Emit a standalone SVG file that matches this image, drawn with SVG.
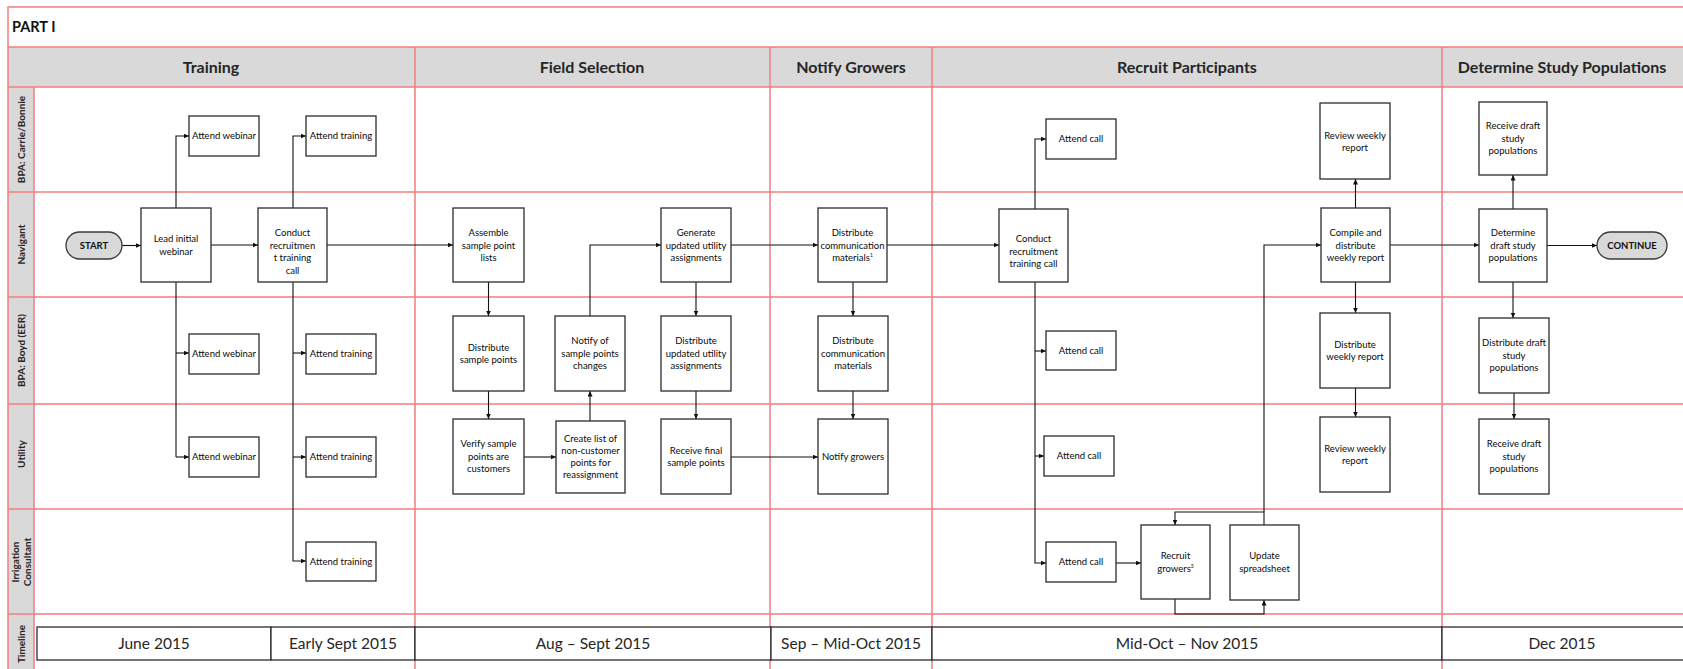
<svg xmlns="http://www.w3.org/2000/svg" width="1683" height="669" viewBox="0 0 1683 669">
<style>
.grid{stroke:#f47f7f;stroke-width:1.5;fill:none}
.hdr{fill:#d9d9d9}
.n{fill:#fff;stroke:#2b2b2b;stroke-width:1.3}
.pill{fill:#d9d9d9;stroke:#3a3a3a;stroke-width:1.3}
.t{font-family:Lato,"Liberation Sans",sans-serif;font-size:9.5px;fill:#0a0a0a;text-anchor:middle}
.pt{font-family:Lato,"Liberation Sans",sans-serif;font-size:9.5px;font-weight:bold;fill:#111;text-anchor:middle}
.h{font-family:Lato,"Liberation Sans",sans-serif;font-size:16px;font-weight:bold;fill:#262626;text-anchor:middle}
.ln{font-family:Lato,"Liberation Sans",sans-serif;font-size:10px;font-weight:bold;fill:#262626;text-anchor:middle}
.tl{font-family:Lato,"Liberation Sans",sans-serif;font-size:15.5px;fill:#262626;text-anchor:middle}
.tb{fill:#fff;stroke:#2b2b2b;stroke-width:1.3}
.c{fill:none;stroke:#111;stroke-width:1.1}
.a{marker-end:url(#ah)}
.sup{font-size:5px}
</style>
<defs>
<marker id="ah" markerWidth="6" markerHeight="5" refX="5.5" refY="2.5" orient="auto" markerUnits="userSpaceOnUse">
<path d="M0,0 L5.5,2.5 L0,5 z" fill="#111"/>
</marker>
</defs>

<g id="frame">
<rect class="hdr" x="8" y="47" width="1675" height="40"/>
<rect class="hdr" x="8" y="87" width="26" height="582"/>
<rect class="grid" x="8" y="7" width="1690" height="680"/>
<path class="grid" d="M8,47 H1683 M8,87 H1683 M8,192 H1683 M8,297 H1683 M8,404 H1683 M8,509 H1683 M8,614 H1683 M34,87 V669 M415,47 V669 M770,47 V669 M932,47 V669 M1442,47 V669"/>
<text x="12" y="32" style="font-family:Lato,'Liberation Sans',sans-serif;font-size:14.5px;font-weight:bold;fill:#111">PART I</text>
<text class="h" x="211" y="72.5">Training</text>
<text class="h" x="592" y="72.5">Field Selection</text>
<text class="h" x="851" y="72.5">Notify Growers</text>
<text class="h" x="1187" y="72.5">Recruit Participants</text>
<text class="h" x="1562" y="72.5">Determine Study Populations</text>
<text class="ln" transform="translate(24.5,139.5) rotate(-90)">BPA: Carrie/Bonnie</text>
<text class="ln" transform="translate(24.5,244.5) rotate(-90)">Navigant</text>
<text class="ln" transform="translate(24.5,350.5) rotate(-90)">BPA: Boyd (EER)</text>
<text class="ln" transform="translate(24.5,454) rotate(-90)">Utility</text>
<text class="ln" transform="translate(19,562) rotate(-90)">Irrigation</text>
<text class="ln" transform="translate(31,562) rotate(-90)">Consultant</text>
<text class="ln" transform="translate(24.5,644) rotate(-90)">Timeline</text>
</g>

<g id="timeline">
<rect class="tb" x="37" y="627" width="234" height="33"/>
<rect class="tb" x="271" y="627" width="144" height="33"/>
<rect class="tb" x="415" y="627" width="356" height="33"/>
<rect class="tb" x="771" y="627" width="161" height="33"/>
<rect class="tb" x="932" y="627" width="510" height="33"/>
<rect class="tb" x="1442" y="627" width="260" height="33"/>
<text class="tl" x="154" y="649">June 2015</text>
<text class="tl" x="343" y="649">Early Sept 2015</text>
<text class="tl" x="593" y="649">Aug – Sept 2015</text>
<text class="tl" x="851" y="649">Sep – Mid-Oct 2015</text>
<text class="tl" x="1187" y="649">Mid-Oct – Nov 2015</text>
<text class="tl" x="1562" y="649">Dec 2015</text>
</g>

<g id="connectors">
<path class="c a" d="M122,245.5 H141"/>
<path class="c a" d="M211,245 H258"/>
<path class="c a" d="M327,245 H453"/>
<path class="c a" d="M176,208 V136 H189"/>
<path class="c" d="M176,282 V457"/>
<path class="c a" d="M176,353 H189"/>
<path class="c a" d="M176,457 H189"/>
<path class="c a" d="M293,208 V136 H306"/>
<path class="c a" d="M293,282 V561 H306"/>
<path class="c a" d="M293,353 H306"/>
<path class="c a" d="M293,457 H306"/>
<path class="c a" d="M488.5,282 V316"/>
<path class="c a" d="M488.5,391 V419"/>
<path class="c a" d="M524,457 H556"/>
<path class="c a" d="M590,421 V391"/>
<path class="c a" d="M590,316 V245 H661"/>
<path class="c a" d="M696,282 V316"/>
<path class="c a" d="M696,391 V419"/>
<path class="c a" d="M731,245 H818"/>
<path class="c a" d="M731,457 H818"/>
<path class="c a" d="M853,282 V316"/>
<path class="c a" d="M853,391 V419"/>
<path class="c a" d="M887,245 H999"/>
<path class="c a" d="M1035,209 V139 H1046"/>
<path class="c a" d="M1035,282 V563 H1046"/>
<path class="c a" d="M1035,351 H1046"/>
<path class="c a" d="M1035,456 H1044"/>
<path class="c a" d="M1116,563 H1141"/>
<path class="c a" d="M1175,599 V614 H1264 V600"/>
<path class="c a" d="M1264,525 V512 H1175 V525"/>
<path class="c a" d="M1264,512 V245 H1321"/>
<path class="c a" d="M1355.5,208 V179"/>
<path class="c a" d="M1355.5,282 V313"/>
<path class="c a" d="M1355.5,388 V417"/>
<path class="c a" d="M1390,245 H1479"/>
<path class="c a" d="M1513,209 V175"/>
<path class="c a" d="M1513,282 V318"/>
<path class="c a" d="M1514,393 V419"/>
<path class="c a" d="M1547,245.5 H1597"/>
</g>

<g id="start"><rect class="pill" x="66" y="232" width="56" height="27" rx="13.5"/><text class="pt" x="94" y="249">START</text></g>
<g id="lead"><rect class="n" x="141" y="208" width="70" height="74"/><text class="t" x="176" y="242">Lead initial<tspan x="176" dy="12.5">webinar</tspan></text></g>
<g id="conduct1"><rect class="n" x="258" y="208" width="69" height="74"/><text class="t" x="292.5" y="236">Conduct<tspan x="292.5" dy="12.5">recruitmen</tspan><tspan x="292.5" dy="12.5">t training</tspan><tspan x="292.5" dy="12.5">call</tspan></text></g>
<g id="aw1"><rect class="n" x="189" y="116" width="70" height="40"/><text class="t" x="224" y="139.3">Attend webinar</text></g>
<g id="at1"><rect class="n" x="306" y="116" width="70" height="40"/><text class="t" x="341" y="139.3">Attend training</text></g>
<g id="aw3"><rect class="n" x="189" y="334" width="70" height="40"/><text class="t" x="224" y="357.3">Attend webinar</text></g>
<g id="at3"><rect class="n" x="306" y="334" width="70" height="40"/><text class="t" x="341" y="357.3">Attend training</text></g>
<g id="aw4"><rect class="n" x="189" y="437" width="70" height="40"/><text class="t" x="224" y="460.3">Attend webinar</text></g>
<g id="at4"><rect class="n" x="306" y="437" width="70" height="40"/><text class="t" x="341" y="460.3">Attend training</text></g>
<g id="at5"><rect class="n" x="306" y="542" width="70" height="39"/><text class="t" x="341" y="564.8">Attend training</text></g>

<g id="assemble"><rect class="n" x="453" y="208" width="71" height="74"/><text class="t" x="488.5" y="236">Assemble<tspan x="488.5" dy="12.5">sample point</tspan><tspan x="488.5" dy="12.5">lists</tspan></text></g>
<g id="distsp"><rect class="n" x="453" y="316" width="71" height="75"/><text class="t" x="488.5" y="350.5">Distribute<tspan x="488.5" dy="12.5">sample points</tspan></text></g>
<g id="verify"><rect class="n" x="453" y="419" width="71" height="75"/><text class="t" x="488.5" y="447.3">Verify sample<tspan x="488.5" dy="12.5">points are</tspan><tspan x="488.5" dy="12.5">customers</tspan></text></g>
<g id="create"><rect class="n" x="556" y="421" width="69" height="72"/><text class="t" x="590.5" y="441.5">Create list of<tspan x="590.5" dy="12.2">non-customer</tspan><tspan x="590.5" dy="12.2">points for</tspan><tspan x="590.5" dy="12.2">reassignment</tspan></text></g>
<g id="notify"><rect class="n" x="555" y="316" width="70" height="75"/><text class="t" x="590" y="344.3">Notify of<tspan x="590" dy="12.5">sample points</tspan><tspan x="590" dy="12.5">changes</tspan></text></g>
<g id="generate"><rect class="n" x="661" y="208" width="70" height="74"/><text class="t" x="696" y="236">Generate<tspan x="696" dy="12.5">updated utility</tspan><tspan x="696" dy="12.5">assignments</tspan></text></g>
<g id="distupd"><rect class="n" x="661" y="316" width="70" height="75"/><text class="t" x="696" y="344.3">Distribute<tspan x="696" dy="12.5">updated utility</tspan><tspan x="696" dy="12.5">assignments</tspan></text></g>
<g id="recfinal"><rect class="n" x="661" y="419" width="70" height="75"/><text class="t" x="696" y="453.5">Receive final<tspan x="696" dy="12.5">sample points</tspan></text></g>

<g id="distcomm1"><rect class="n" x="818" y="208" width="69" height="74"/><text class="t" x="852.5" y="236">Distribute<tspan x="852.5" dy="12.5">communication</tspan><tspan x="852.5" dy="12.5">materials</tspan><tspan class="sup" dy="-4">1</tspan></text></g>
<g id="distcomm"><rect class="n" x="818" y="316" width="70" height="75"/><text class="t" x="853" y="344.3">Distribute<tspan x="853" dy="12.5">communication</tspan><tspan x="853" dy="12.5">materials</tspan></text></g>
<g id="notifyg"><rect class="n" x="818" y="419" width="70" height="75"/><text class="t" x="853" y="459.8">Notify growers</text></g>

<g id="conduct2"><rect class="n" x="999" y="209" width="69" height="73"/><text class="t" x="1033.5" y="242">Conduct<tspan x="1033.5" dy="12.5">recruitment</tspan><tspan x="1033.5" dy="12.5">training call</tspan></text></g>
<g id="ac1"><rect class="n" x="1046" y="119" width="70" height="40"/><text class="t" x="1081" y="142.3">Attend call</text></g>
<g id="ac3"><rect class="n" x="1046" y="331" width="70" height="39"/><text class="t" x="1081" y="353.8">Attend call</text></g>
<g id="ac4"><rect class="n" x="1044" y="436" width="70" height="40"/><text class="t" x="1079" y="459.3">Attend call</text></g>
<g id="ac5"><rect class="n" x="1046" y="542" width="70" height="40"/><text class="t" x="1081" y="565.3">Attend call</text></g>
<g id="recruit"><rect class="n" x="1141" y="525" width="69" height="74"/><text class="t" x="1175.5" y="559">Recruit<tspan x="1175.5" dy="12.5">growers</tspan><tspan class="sup" dy="-4">3</tspan></text></g>
<g id="update"><rect class="n" x="1230" y="525" width="69" height="75"/><text class="t" x="1264.5" y="559">Update<tspan x="1264.5" dy="12.5">spreadsheet</tspan></text></g>

<g id="review1"><rect class="n" x="1320" y="103" width="70" height="76"/><text class="t" x="1355" y="138.5">Review weekly<tspan x="1355" dy="12.5">report</tspan></text></g>
<g id="compile"><rect class="n" x="1321" y="208" width="69" height="74"/><text class="t" x="1355.5" y="236">Compile and<tspan x="1355.5" dy="12.5">distribute</tspan><tspan x="1355.5" dy="12.5">weekly report</tspan></text></g>
<g id="distweekly"><rect class="n" x="1320" y="313" width="70" height="75"/><text class="t" x="1355" y="347.5">Distribute<tspan x="1355" dy="12.5">weekly report</tspan></text></g>
<g id="review4"><rect class="n" x="1320" y="417" width="70" height="75"/><text class="t" x="1355" y="451.5">Review weekly<tspan x="1355" dy="12.5">report</tspan></text></g>

<g id="recdraft1"><rect class="n" x="1479" y="102" width="68" height="73"/><text class="t" x="1513" y="129.3">Receive draft<tspan x="1513" dy="12.5">study</tspan><tspan x="1513" dy="12.5">populations</tspan></text></g>
<g id="determine"><rect class="n" x="1479" y="209" width="68" height="73"/><text class="t" x="1513" y="236.3">Determine<tspan x="1513" dy="12.5">draft study</tspan><tspan x="1513" dy="12.5">populations</tspan></text></g>
<g id="distdraft"><rect class="n" x="1479" y="318" width="70" height="75"/><text class="t" x="1514" y="346.3">Distribute draft<tspan x="1514" dy="12.5">study</tspan><tspan x="1514" dy="12.5">populations</tspan></text></g>
<g id="recdraft4"><rect class="n" x="1479" y="419" width="70" height="75"/><text class="t" x="1514" y="447.3">Receive draft<tspan x="1514" dy="12.5">study</tspan><tspan x="1514" dy="12.5">populations</tspan></text></g>
<g id="continue"><rect class="pill" x="1597" y="232" width="70" height="27" rx="13.5"/><text class="pt" x="1632" y="249">CONTINUE</text></g>
</svg>
